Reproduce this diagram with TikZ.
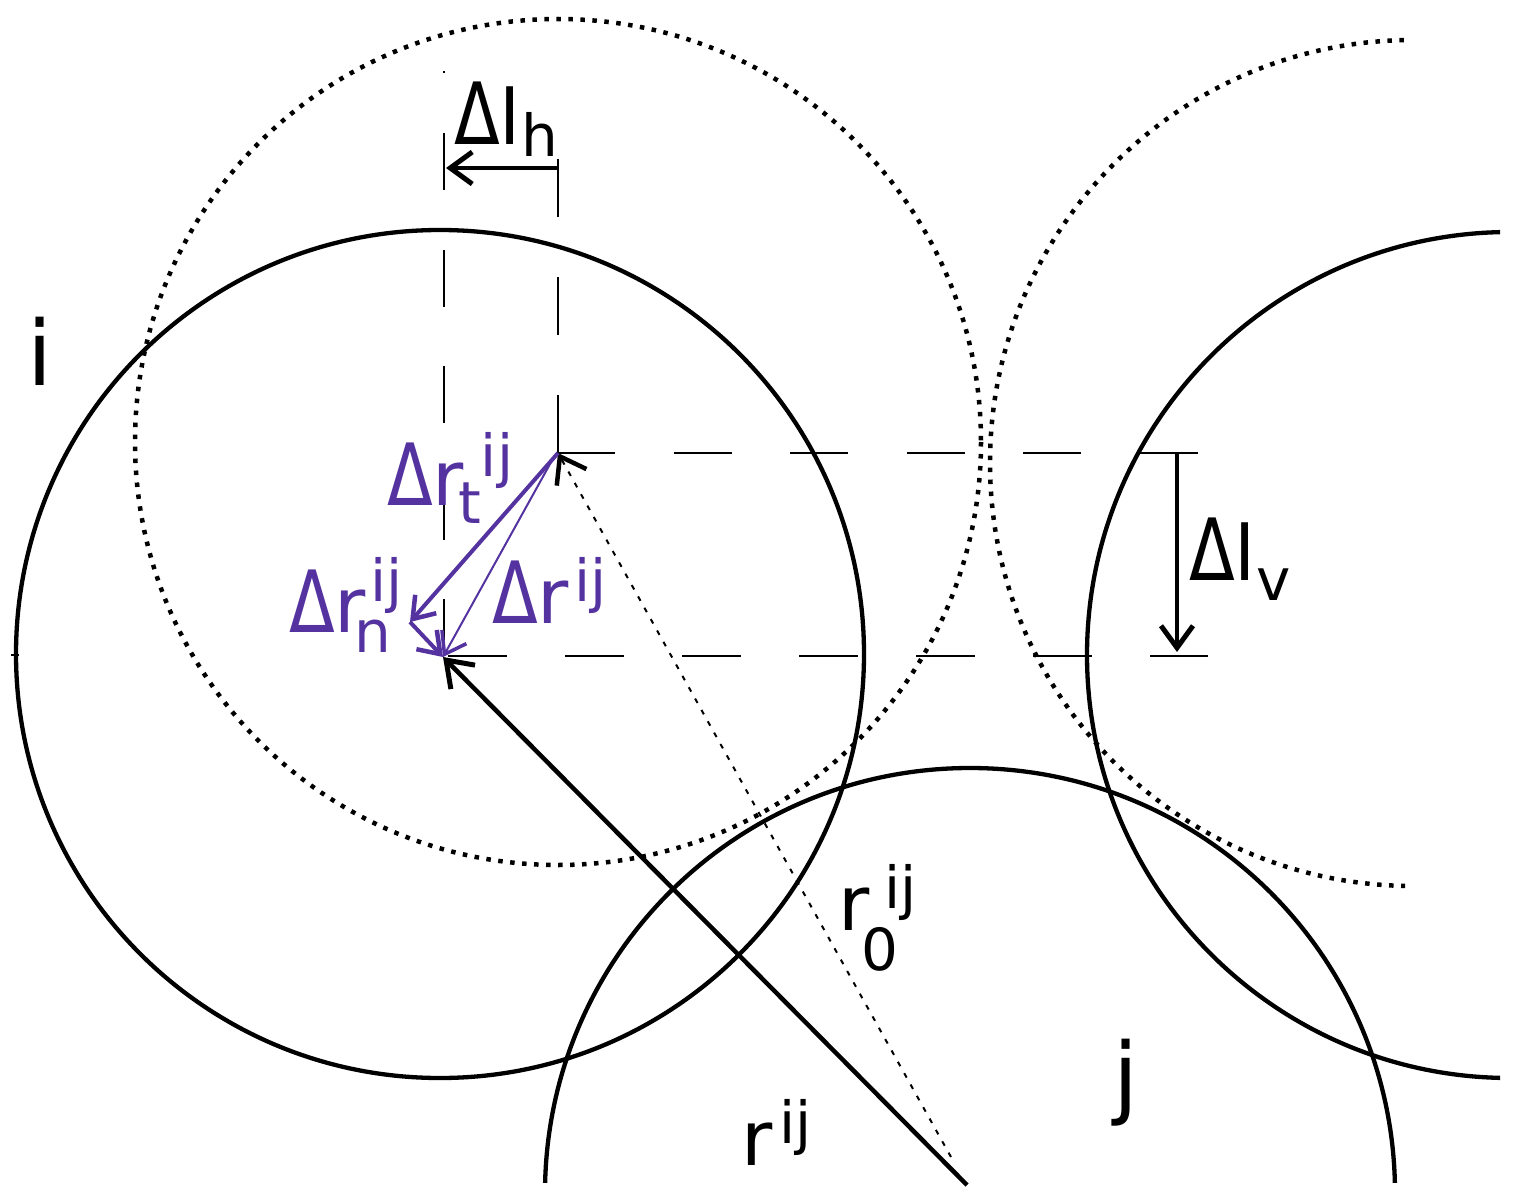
\documentclass[tikz,border=0pt]{standalone}
\usepackage{fontspec}
\setmainfont{DejaVu Sans}
\usepackage{graphicx}
\usetikzlibrary{arrows.meta}
\definecolor{vio}{RGB}{84,51,160}
\newcommand\D{\scalebox{0.88}[1.13]{Δ}}
\newcommand\Lo[2]{\raisebox{-#1pt}{\fontsize{58}{58}\selectfont #2}}
\newcommand\Hi[2]{\raisebox{#1pt}{\fontsize{58}{58}\selectfont #2}}
\begin{document}
\begin{tikzpicture}[x=1pt,y=-1pt,
  solidc/.style={line width=4.3pt},
  dotc/.style={line width=4.5pt, dash pattern=on 4.5pt off 7.5pt},
  dim/.style={line width=2pt},
  barb/.style={-{Straight Barb[length=22pt,width=32pt,line width=5pt]}},
  sbarb/.style={-{Straight Barb[length=20pt,width=28pt,line width=4.5pt]}},
  lab/.style={inner sep=0pt, anchor=base west, font=\fontsize{76}{76}\selectfont},
  big/.style={inner sep=0pt, anchor=base, font=\fontsize{90}{90}\selectfont},
]
\useasboundingbox (0,0) rectangle (1515,1201);

% circles
\draw[solidc] (440,654) circle[radius=424];
\draw[dotc] (558,442) circle[radius=423];
\begin{scope}
  \clip (0,0) rectangle (1515,1182);
  \draw[solidc] (970,1193) circle[radius=425];
\end{scope}
\begin{scope}
  \clip (0,0) rectangle (1500,1201);
  \draw[solidc] (1510,655) circle[radius=423];
\end{scope}
\begin{scope}
  \clip (0,0) rectangle (1405,1201);
  \draw[dotc] (1413,463) circle[radius=423];
\end{scope}

% key points
\coordinate (ci) at (443,657);
\coordinate (cd) at (558,453);
\coordinate (cd2) at (555,455);
\coordinate (cj) at (967,1185);
\coordinate (cjd) at (951,1157);
\coordinate (ct) at (410,622);
\coordinate (hL) at (446,168);
\coordinate (hR) at (558,168);
\coordinate (vT) at (1177,453);
\coordinate (vB) at (1177,652);

% dashed guide lines
\draw[dim, dash pattern=on 57pt off 59.5pt] (444,656) -- (444,71);
\draw[dim, dash pattern=on 58pt off 60pt] (558,453) -- (558,158);
\draw[dim, dash pattern=on 58pt off 58.5pt] (557,453) -- (1200,453);
\draw[dim, dash pattern=on 59pt off 58pt] (448,656) -- (1208,656);
\draw[dim] (11,655) -- (19,655);

% dimension arrows
\draw[line width=4pt, barb] (hR) -- (hL);
\draw[line width=4pt, barb] (vT) -- (vB);

% vectors
\draw[line width=4.5pt, -{Straight Barb[length=24pt,width=34pt,line width=5pt]}] (cj) -- (ci);
\draw[line width=2pt, dash pattern=on 5pt off 8pt, -{Straight Barb[length=24pt,width=34pt,line width=4.5pt]}] (cjd) -- (cd);
\draw[vio, line width=4pt, sbarb] (cd) -- (ct);
\draw[vio, line width=2pt, -{Straight Barb[length=20pt,width=28pt,line width=3.5pt]}] (cd2) -- (ci);
\draw[vio, line width=4pt, sbarb] (ct) -- (ci);

% labels
\node[lab] (lh) at (454,145) {\D l\Lo{12}{h}};
\node[lab] (lv) at (1189,580) {\D l\Lo{20}{v}};
\node[lab, text=vio] (drt) at (387,505) {\D r\hspace{-6pt}\Lo{18}{t}\Hi{29}{ij}};
\node[lab, text=vio] (drn) at (289,632) {\D r\rlap{\hspace{-12pt}\Lo{20}{n}}\hspace{4pt}\Hi{31}{ij}};
\node[lab, text=vio] (dr) at (492,623) {\D r\hspace{5pt}\Hi{22}{ij}};
\node[lab] (r0) at (838,930) {r\rlap{\hspace{-8pt}\Lo{40}{0}}\hspace{15pt}\Hi{22}{ij}};
\node[lab] (rij) at (741,1165) {r\hspace{7pt}\Hi{22}{ij}};
\node[big] (li) at (40,385) {i};
\node[big] (lj) at (1126,1107) {j};
\end{tikzpicture}
\end{document}
